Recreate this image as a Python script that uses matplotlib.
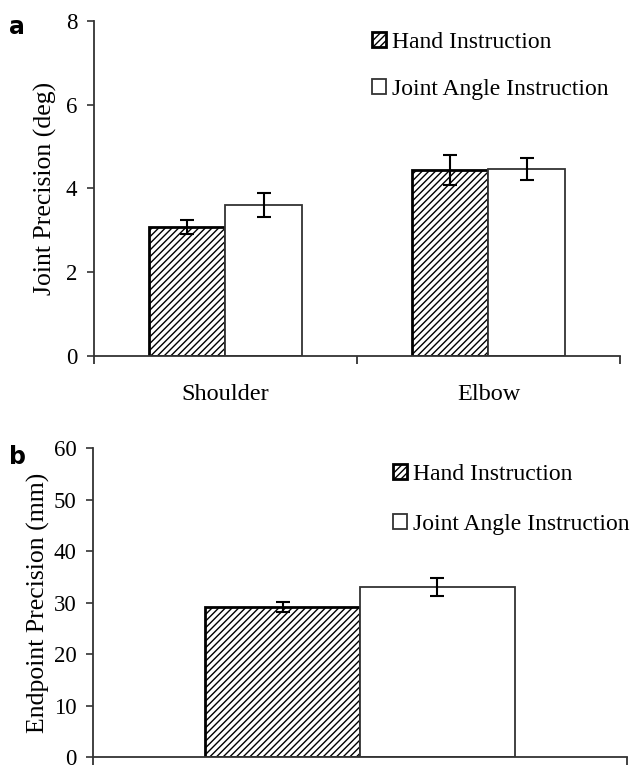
import matplotlib
matplotlib.use("Agg")
import matplotlib.pyplot as plt
import numpy as np

# panel a: joint precision (deg)
joints = ["Shoulder", "Elbow"]
joint_hand = [3.08, 4.45]
joint_hand_err = [0.17, 0.36]
joint_angle = [3.61, 4.47]
joint_angle_err = [0.28, 0.26]

# panel b: endpoint precision (mm)
endpoint_hand = [29.2]
endpoint_hand_err = [1.0]
endpoint_angle = [33.0]
endpoint_angle_err = [1.8]

series_labels = ["Hand Instruction", "Joint Angle Instruction"]

plt.rcParams["font.family"] = ["Liberation Serif", "DejaVu Serif"]
plt.rcParams["hatch.linewidth"] = 1.0
plt.rcParams["hatch.color"] = "#222222"
INK = "#333333"
W = 0.29


def _style(ax, n, ymax, step):
    for s in ("top", "right"):
        ax.spines[s].set_visible(False)
    for s in ("left", "bottom"):
        ax.spines[s].set_color(INK)
        ax.spines[s].set_linewidth(1.3)
    ax.set_xlim(-0.5, n - 0.5)
    ax.set_ylim(0, ymax)
    ax.set_yticks(np.arange(0, ymax + 0.1, step))
    ax.tick_params(axis="y", direction="out", length=5, width=1.2, color=INK,
                   labelsize=16.5, pad=7)
    ax.set_xticks(np.arange(-0.5, n, 1.0), minor=True)
    ax.tick_params(axis="x", which="minor", direction="out", length=6, width=1.3, color=INK)
    ax.tick_params(axis="x", which="major", length=0, labelsize=17.5, pad=20)


def _bars(ax, hand, hand_err, angle, angle_err):
    x = np.arange(len(hand))
    ax.bar(x - W / 2, hand, W, color="white", edgecolor="black", linewidth=2.0,
           hatch="/////", label=series_labels[0])
    ax.errorbar(x - W / 2, hand, yerr=hand_err, fmt="none", ecolor="black",
                elinewidth=1.5, capsize=5, capthick=1.5)
    ax.bar(x + W / 2, angle, W, color="white", edgecolor=INK, linewidth=1.3,
           label=series_labels[1])
    ax.errorbar(x + W / 2, angle, yerr=angle_err, fmt="none", ecolor="black",
                elinewidth=1.5, capsize=5, capthick=1.5)


LEG = dict(frameon=False, fontsize=17, handlelength=0.6, handleheight=0.6,
           handletextpad=0.25, borderpad=0, borderaxespad=0, loc="upper left")

fig = plt.figure(figsize=(6.3, 7.7), dpi=100)

ax1 = fig.add_axes([0.149, 0.5377, 0.835, 0.435])
_bars(ax1, joint_hand, joint_hand_err, joint_angle, joint_angle_err)
_style(ax1, len(joints), 8, 2)
ax1.set_xticks(np.arange(len(joints)))
ax1.set_xticklabels(joints)
ax1.set_ylabel("Joint Precision (deg)", fontsize=18.5, labelpad=6)
ax1.legend(bbox_to_anchor=(0.528, 0.967), labelspacing=1.1, **LEG)

ax2 = fig.add_axes([0.148, 0.0169, 0.847, 0.401])
_bars(ax2, endpoint_hand, endpoint_hand_err, endpoint_angle, endpoint_angle_err)
_style(ax2, 1, 60, 10)
ax2.set_xticks([])
ax2.set_ylabel("Endpoint Precision (mm)", fontsize=18.5, labelpad=3)
ax2.legend(bbox_to_anchor=(0.562, 0.95), labelspacing=1.25, **LEG)

fig.text(0.015, 0.98, "a", fontsize=17, fontweight="bold", family="DejaVu Sans",
         va="top")
fig.text(0.015, 0.422, "b", fontsize=17, fontweight="bold", family="DejaVu Sans",
         va="top")

fig.savefig("out.png", dpi=100, facecolor="white")
